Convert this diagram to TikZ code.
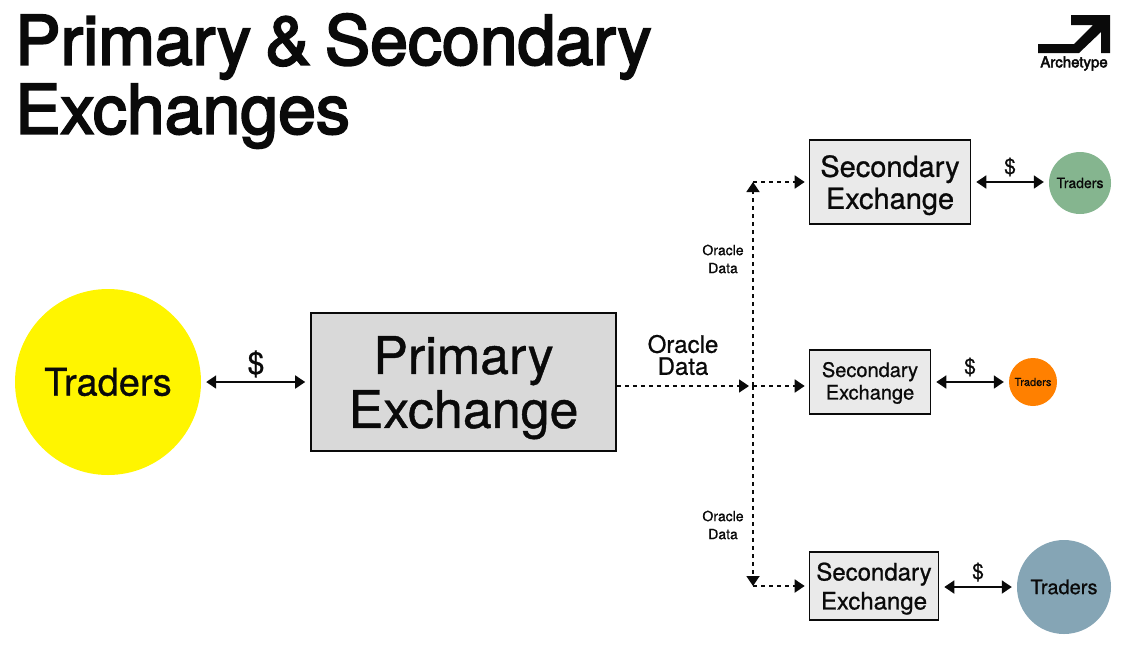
\documentclass[tikz,border=0pt]{standalone}
\usepackage{fontspec}
\setmainfont[FakeBold=0.8]{TeX Gyre Heros}
\newfontfamily\headfont[FakeBold=3,WordSpace=0.75]{TeX Gyre Heros}
\usetikzlibrary{arrows.meta,positioning,calc}
\definecolor{ink}{HTML}{0A0A0A}
\definecolor{primarygrey}{HTML}{D9D9D9}
\definecolor{secondarygrey}{HTML}{EAEAEA}
\definecolor{sun}{HTML}{FFF500}
\definecolor{sage}{HTML}{85B58F}
\definecolor{tangerine}{HTML}{FF8000}
\definecolor{slate}{HTML}{85A5B5}
\newcommand{\fsz}[2]{\fontsize{#1}{#2}\selectfont}
\tikzset{
  exchange/.style={draw=ink, line width=1.6pt, align=center, inner sep=0pt, text=ink},
  traders/.style={circle, inner sep=0pt, text=ink},
  label/.style={align=center, inner sep=0pt, text=ink},
  money/.style={{Triangle[length=10pt,width=13pt]}-{Triangle[length=10pt,width=13pt]}, line width=1.8pt, draw=ink, shorten <=5pt, shorten >=5pt},
  feed/.style={line width=1.8pt, draw=ink, dash pattern=on 4pt off 4pt},
  feedtip/.style={feed, -{Triangle[length=10pt,width=13pt]}}
}
\begin{document}
\begin{tikzpicture}[x=1pt,y=-1pt]
  \useasboundingbox (0,0) rectangle (1126,657);
  \node[label,anchor=north west,align=left,font=\fsz{68}{69}\headfont] (title) at (15,13.5) {Primary \& Secondary\\Exchanges};

  % logo
  \fill[ink] (1071,15) -- (1110,15) -- (1110,53) -- (1101,53) -- (1101,32) -- (1079,53) -- (1038,53) -- (1038,44) -- (1074,44) -- (1093,25) -- (1071,25) -- cycle;
  \node[label,font=\fsz{15}{15}\headfont] (brand) at (1074,63.5) {Archetype};

  % left side
  \node[traders,fill=sun,minimum size=186pt,font=\fsz{38}{38}] (bigtraders) at (108,382) {Traders};
  \node[exchange,fill=primarygrey,minimum width=305pt,minimum height=138pt,text depth=-3pt,font=\fsz{52}{54}] (primary) at (463.5,382) {Primary\\Exchange};
  \draw[money] (bigtraders) -- (primary);
  \node[label,font=\fsz{30}{30}] (bigfee) at (256,364) {\$};

  % secondary exchanges
  \node[exchange,fill=secondarygrey,minimum width=161pt,minimum height=84pt,text depth=-3pt,font=\fsz{29}{32}] (sectop) at (890,182) {Secondary\\Exchange};
  \node[exchange,fill=secondarygrey,minimum width=121pt,minimum height=64pt,text depth=2.5pt,font=\fsz{20}{22.5}] (secmid) at (870,382) {Secondary\\Exchange};
  \node[exchange,fill=secondarygrey,minimum width=129pt,minimum height=68pt,text depth=-3pt,font=\fsz{24}{29}] (secbot) at (874,586) {Secondary\\Exchange};

  \node[traders,fill=sage,minimum size=62pt,font=\fsz{14}{14}] (toptraders) at (1080,183) {Traders};
  \node[traders,fill=tangerine,minimum size=48pt,font=\fsz{11}{11}] (midtraders) at (1033,382) {Traders};
  \node[traders,fill=slate,minimum size=94pt,font=\fsz{20}{20}] (bottraders) at (1064,587) {Traders};

  \draw[money] (sectop.east) -- (toptraders.west |- sectop.east);
  \draw[money] (secmid) -- (midtraders);
  \draw[money] (secbot.east |- bottraders) -- (bottraders);
  \node[label,font=\fsz{21}{21}] (topfee) at (1010,167) {\$};
  \node[label,font=\fsz{21}{21}] (midfee) at (970,367) {\$};
  \node[label,font=\fsz{21}{21}] (botfee) at (978,572) {\$};

  % oracle feed
  \coordinate (hub) at (753,386);
  \coordinate (hubtop) at (753,182);
  \coordinate (hubbot) at (753,586);
  \draw[feedtip,shorten >=4pt] ($(primary.east)+(0,4)$) -- (hub);
  \draw[feedtip,shorten >=4pt] (hub) -- (secmid.west |- hub);
  \draw[feedtip,shorten >=4pt] (hubtop) -- (sectop);
  \draw[feedtip,shorten >=4pt] (hubbot) -- (secbot);
  \draw[feedtip] (hub) -- (hubtop);
  \draw[feedtip] (hub) -- (hubbot);
  \node[label,font=\fsz{24}{22}] (mainfeed) at (683,355) {Oracle\\Data};
  \node[label,font=\fsz{14}{18}] (topfeed) at (723,259) {Oracle\\Data};
  \node[label,font=\fsz{14}{18}] (botfeed) at (723,525) {Oracle\\Data};
\end{tikzpicture}
\end{document}
